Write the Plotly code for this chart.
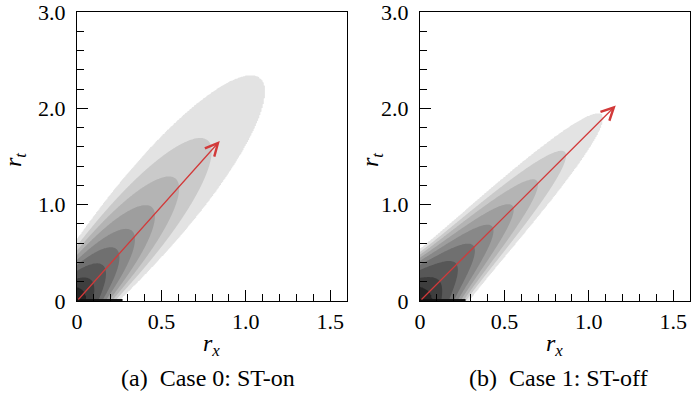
import numpy as np
import plotly.graph_objects as go

# ---------------- data ----------------
x_range = [0, 1.6]
y_range = [0, 3.0]
x_tickvals = [0, 0.5, 1.0, 1.5]
x_ticktext = ["0", "0.5", "1.0", "1.5"]
y_tickvals = [0, 1.0, 2.0, 3.0]
y_ticktext = ["0", "1.0", "2.0", "3.0"]

captions = ["(a)\u00a0 Case 0: ST-on", "(b)\u00a0 Case 1: ST-off"]

# red arrow tips (r_x, r_t)
arrow_tip_a = [0.846, 1.66]
arrow_tip_b = [1.16, 2.03]

# farthest reach of each filled contour level, as a fraction of the arrow length
# (lightest level first)
tips_a = [1.342, 0.965, 0.732, 0.559, 0.415, 0.303, 0.205, 0.117, 0.056]
tips_b = [0.939, 0.751, 0.606, 0.480, 0.375, 0.278, 0.188, 0.101, 0.047]

# r_x where the outer level meets the r_x axis (dark edge along the axis)
base_edge_a = 0.27
base_edge_b = 0.27

# fill colours: outside, then lightest -> darkest level
level_colors = ["#ffffff", "#e3e3e3", "#cacaca", "#b4b4b4", "#9e9e9e",
                "#888888", "#707070", "#575757", "#3e3e3e", "#242424"]

# ---------------- layout geometry ----------------
W, H = 700, 393
dom_xa = [77 / W, 347 / W]
dom_xb = [420 / W, 690 / W]
dom_y = [1 - 301 / H, 1 - 12 / H]

sx = (dom_xa[1] - dom_xa[0]) * W / (x_range[1] - x_range[0])
sy = (dom_y[1] - dom_y[0]) * H / (y_range[1] - y_range[0])

xs = np.linspace(x_range[0], x_range[1], 241)
ys = np.linspace(y_range[0], y_range[1], 451)
XG, YG = np.meshgrid(xs, ys)


def level_field(tip, tips, off, s0, s1, c0, c1):
    X = XG * sx
    Y = YG * sy
    tx, ty = tip[0] * sx, tip[1] * sy
    lr = np.hypot(tx, ty)
    dx, dy = tx / lr, ty / lr
    u = X * dx + Y * dy
    v = -X * dy + Y * dx
    sig = s0 + s1 * u
    vc = c0 + c1 * u
    F = -np.log(u + off) - (v - vc) ** 2 / (2 * sig ** 2)
    lev = -np.log(np.array(tips) * lr + off)
    n = len(tips)
    xp = np.concatenate([[lev[0] - 60], lev, [lev[-1] + 60]])
    fp = np.arange(0, n + 2)
    return np.round(np.interp(F, xp, fp), 3)


N = len(tips_a)
cscale = [[j / N, level_colors[j]] for j in range(N + 1)]

za = level_field(arrow_tip_a, tips_a, 10, 13, 0.15, 3, 0.03)
zb = level_field(arrow_tip_b, tips_b, 10, 17, 0.05, 1, 0.01)

fig = go.Figure()
for z, xa, ya in [(za, "x", "y"), (zb, "x2", "y2")]:
    fig.add_trace(go.Contour(
        x=xs, y=ys, z=z, xaxis=xa, yaxis=ya,
        autocontour=False,
        contours=dict(start=1, end=N, size=1, coloring="fill", showlines=False),
        line=dict(width=0),
        colorscale=cscale, showscale=False, hoverinfo="skip",
    ))

for edge, xa, ya in [(base_edge_a, "x", "y"), (base_edge_b, "x2", "y2")]:
    fig.add_trace(go.Scatter(x=[0, edge], y=[0, 0], mode="lines", xaxis=xa, yaxis=ya,
                             line=dict(color="#111111", width=4), hoverinfo="skip",
                             showlegend=False))

SERIF = "Liberation Serif, Times New Roman, Times, DejaVu Serif, serif"
tickfont = dict(family=SERIF, size=22, color="black")


def xaxis_cfg(dom, anchor):
    return dict(domain=dom, anchor=anchor, range=x_range, tickmode="array",
                tickvals=x_tickvals, ticktext=x_ticktext, ticks="inside", ticklen=11,
                tickwidth=1.3, tickcolor="black", showline=True, linecolor="black",
                linewidth=1.3, mirror=True, showgrid=False, zeroline=False,
                automargin=False,
                tickfont=tickfont, ticklabelstandoff=0, ticklabeloverflow="allow",
                minor=dict(tickmode="linear", tick0=0, dtick=0.1, ticks="inside",
                           ticklen=7, tickwidth=1.2, tickcolor="black", showgrid=False))


def yaxis_cfg(anchor):
    return dict(domain=dom_y, anchor=anchor, range=y_range, tickmode="array",
                tickvals=y_tickvals, ticktext=y_ticktext, ticks="inside", ticklen=11,
                tickwidth=1.3, tickcolor="black", showline=True, linecolor="black",
                linewidth=1.3, mirror=True, showgrid=False, zeroline=False,
                automargin=False,
                tickfont=tickfont, ticklabelstandoff=6, ticklabeloverflow="allow",
                minor=dict(tickmode="linear", tick0=0, dtick=0.2, ticks="inside",
                           ticklen=7, tickwidth=1.2, tickcolor="black", showgrid=False))


fig.update_layout(
    width=W, height=H,
    margin=dict(l=0, r=0, t=0, b=0, autoexpand=False),
    paper_bgcolor="white", plot_bgcolor="white",
    showlegend=False,
    xaxis=xaxis_cfg(dom_xa, "y"), yaxis=yaxis_cfg("x"),
    xaxis2=xaxis_cfg(dom_xb, "y2"), yaxis2=yaxis_cfg("x2"),
)

red = "#d23a3a"
annots = []
for tip, xr, yr in [(arrow_tip_a, "x", "y"), (arrow_tip_b, "x2", "y2")]:
    annots.append(dict(x=tip[0], y=tip[1], xref=xr, yref=yr, ax=0, ay=0,
                       axref=xr, ayref=yr, text="", showarrow=True, arrowhead=5,
                       arrowsize=1.9, arrowwidth=1.3, arrowcolor=red))

titlefont = dict(family=SERIF, size=24, color="black")
capfont = dict(family=SERIF, size=24, color="black")
rx = "<i>r</i><sub><i>x</i></sub>"
rt = "<i>r</i><sub><i>t</i></sub>"
for cx, ytx in [(211 / W, 15 / W), (554 / W, 372 / W)]:
    annots.append(dict(x=cx, y=1 - 345 / H, xref="paper", yref="paper", text=rx,
                       showarrow=False, font=titlefont, xanchor="center", yanchor="middle"))
    annots.append(dict(x=ytx, y=1 - 160 / H, xref="paper", yref="paper", text=rt,
                       showarrow=False, font=titlefont, textangle=-90,
                       xanchor="center", yanchor="middle"))
for cap, cap_x in zip(captions, [208 / W, 558 / W]):
    annots.append(dict(x=cap_x, y=1 - 378 / H, xref="paper", yref="paper", text=cap,
                       showarrow=False, font=capfont, xanchor="center", yanchor="middle"))

fig.update_layout(annotations=annots)
fig.write_html("out.html", config={"displayModeBar": False},
               post_script="document.body.style.margin='0px';")
